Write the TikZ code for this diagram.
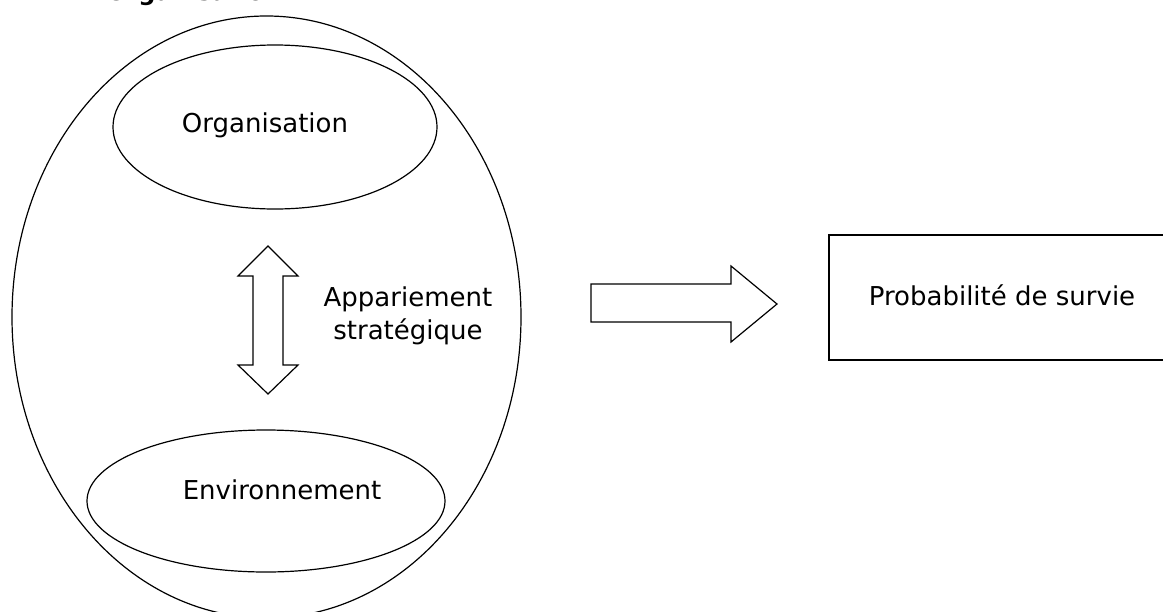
\documentclass[tikz,border=0pt]{standalone}
\usepackage{fontspec}
\setmainfont{DejaVu Sans}
\usetikzlibrary{shapes.geometric}
\begin{document}
\begin{tikzpicture}[x=1pt,y=-1pt,
  every node/.style={font=\fontsize{26}{33}\selectfont},
  oval/.style={draw, ellipse, line width=1.2pt, inner sep=0pt},
  txt/.style={inner sep=0pt, align=center},
  blockarrow/.style={draw, line width=1.2pt, line join=miter, fill=white},
  survivebox/.style={draw, line width=1.2pt, inner sep=0pt}]
\useasboundingbox (0,0) rectangle (1163,611);
\clip (0,0) rectangle (1163,611);
% partially visible heading
\node[anchor=base west, inner sep=0pt, font=\fontsize{24}{30}\selectfont\bfseries] (head) at (106,0) {Organisation};
% outer ellipse
\node[oval, minimum width=509pt, minimum height=602pt] (outer) at (266.5,317) {};
% inner ellipses
\node[oval, minimum width=324pt, minimum height=164pt] (org) at (275,127) {};
\node[txt] (orgt) at (265,125) {Organisation};
\node[oval, minimum width=358pt, minimum height=142pt] (env) at (266,501) {};
\node[txt] (envt) at (282,490) {Environnement};
% double arrow
\draw[blockarrow] (268,246) -- (298,276) -- (283,276) -- (283,365) -- (298,365)
  -- (268,394) -- (238,365) -- (253,365) -- (253,276) -- (238,276) -- cycle;
\node[txt] (app) at (408,316) {Appariement\\strat\'egique};
% right block arrow
\draw[blockarrow] (591,284) -- (731,284) -- (731,266) -- (777,304) -- (731,342)
  -- (731,322) -- (591,322) -- cycle;
% box
\node[survivebox, minimum width=338pt, minimum height=125pt] (box) at (998,297.5) {};
\node[txt] (boxt) at (1002,295) {Probabilit\'e de survie};
\end{tikzpicture}
\end{document}
